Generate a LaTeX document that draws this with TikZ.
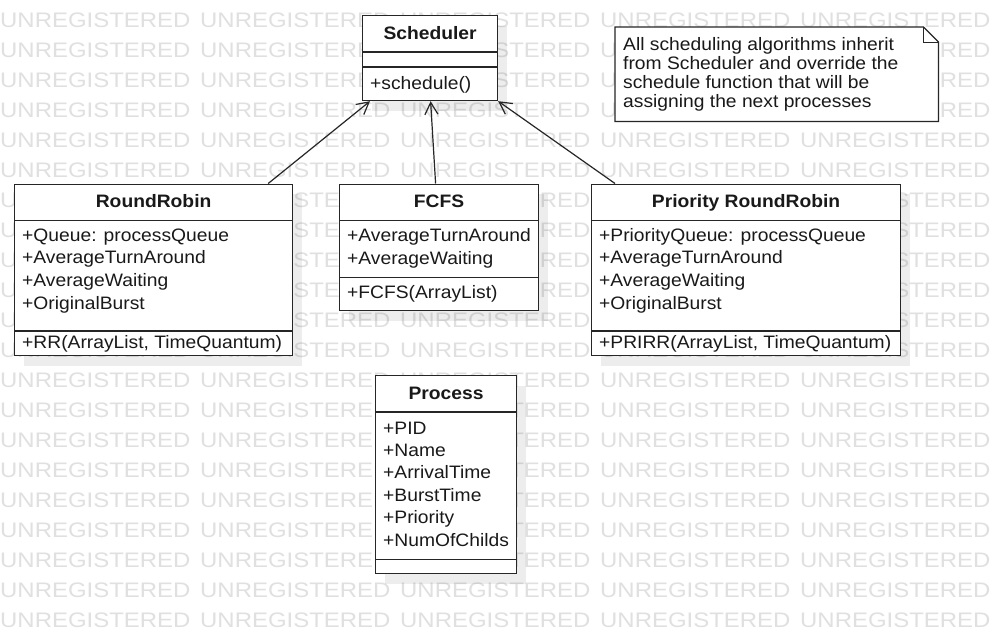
\documentclass[tikz,border=0pt]{standalone}
\usepackage{fontspec}
\usepackage{graphicx}
\setmainfont{Liberation Sans}[FakeStretch=1.07]
\newfontfamily\wmfont{Liberation Sans}
\usetikzlibrary{arrows.meta,shadows}

\begin{document}
\begin{tikzpicture}[x=1pt,y=-1pt,
    umlbox/.style={draw=black!85, line width=1.2pt, fill=white, anchor=north west, inner sep=0pt,
        drop shadow={shadow xshift=9pt, shadow yshift=-10pt, fill=black, opacity=0.07}},
    divider/.style={draw=black!85, line width=1.2pt},
    umltitle/.style={anchor=base, inner sep=0pt, text=black!90, font=\fontsize{18}{22}\selectfont\bfseries},
    umltext/.style={anchor=base west, inner sep=0pt, text=black!90, font=\fontsize{18}{22}\selectfont},
    inherit/.style={draw=black!85, line width=1.2pt, -{Straight Barb[length=12pt,width=13pt]}},
    wmark/.style={anchor=base west, inner sep=0pt, text=black!12, font=\wmfont\fontsize{21}{24}\selectfont}]

        \useasboundingbox (0,0) rectangle (999,633);
        \fill[white] (0,0) rectangle (999,633);

        % Watermark
        \foreach \r in {0,...,20}
            \foreach \c in {0,...,4}
                \node[wmark] (wm-\r-\c) at (200*\c, 27.7+30*\r) {\scalebox{1.14}[1]{UNREGISTERED}};

        % Scheduler
        \node[umlbox, minimum width=135pt, minimum height=85pt] (sched) at (362,15) {};
        \draw[divider] (sched.west |- 0,52) -- (sched.east |- 0,52);
        \draw[divider] (sched.west |- 0,67) -- (sched.east |- 0,67);
        \node[umltitle] (sched-title) at (sched.north |- 0,39.5) {Scheduler};
        \node[umltext] (sched-m) at (370,89) {+schedule()};

        % RoundRobin
        \node[umlbox, minimum width=278pt, minimum height=171.5pt] (rr) at (14,183.5) {};
        \draw[divider] (rr.west |- 0,220.5) -- (rr.east |- 0,220.5);
        \draw[divider] (rr.west |- 0,331) -- (rr.east |- 0,331);
        \node[umltitle] (rr-title) at (rr.north |- 0,207.5) {RoundRobin};
        \foreach \t [count=\i from 0] in {{+Queue: processQueue}, +AverageTurnAround, +AverageWaiting, +OriginalBurst}
            \node[umltext] (rr-a\i) at (22, 241+22.7*\i) {\t};
        \node[umltext] (rr-m) at (22,348.5) {+RR(ArrayList, TimeQuantum)};

        % FCFS
        \node[umlbox, minimum width=199pt, minimum height=126.5pt] (fcfs) at (339,183.5) {};
        \draw[divider] (fcfs.west |- 0,220.5) -- (fcfs.east |- 0,220.5);
        \draw[divider] (fcfs.west |- 0,277.5) -- (fcfs.east |- 0,277.5);
        \node[umltitle] (fcfs-title) at (fcfs.north |- 0,207.5) {FCFS};
        \foreach \t [count=\i from 0] in {+AverageTurnAround, +AverageWaiting}
            \node[umltext] (fcfs-a\i) at (347, 241.5+22.7*\i) {\t};
        \node[umltext] (fcfs-m) at (347,298.5) {+FCFS(ArrayList)};

        % Priority RoundRobin
        \node[umlbox, minimum width=309pt, minimum height=171.5pt] (prr) at (591,183.5) {};
        \draw[divider] (prr.west |- 0,220.5) -- (prr.east |- 0,220.5);
        \draw[divider] (prr.west |- 0,331) -- (prr.east |- 0,331);
        \node[umltitle] (prr-title) at (prr.north |- 0,207.5) {Priority RoundRobin};
        \foreach \t [count=\i from 0] in {{+PriorityQueue: processQueue}, +AverageTurnAround, +AverageWaiting, +OriginalBurst}
            \node[umltext] (prr-a\i) at (599, 241+22.7*\i) {\t};
        \node[umltext] (prr-m) at (599,348.5) {+PRIRR(ArrayList, TimeQuantum)};

        % Process
        \node[umlbox, minimum width=141pt, minimum height=198pt] (proc) at (375,375) {};
        \draw[divider] (proc.west |- 0,412) -- (proc.east |- 0,412);
        \draw[divider] (proc.west |- 0,559.5) -- (proc.east |- 0,559.5);
        \node[umltitle] (proc-title) at (proc.north |- 0,399) {Process};
        \foreach \t [count=\i from 0] in {+PID, +Name, +ArrivalTime, +BurstTime, +Priority, +NumOfChilds}
            \node[umltext] (proc-a\i) at (383, 434+22.4*\i) {\t};

        % Generalizations
        \draw[inherit] ([xshift=-25pt]rr.north east) -- ([xshift=8pt]sched.south west);
        \draw[inherit] ([xshift=-3.5pt]fcfs.north) -- ([xshift=0.5pt]sched.south);
        \draw[inherit] ([xshift=24pt]prr.north west) -- (sched.south east);

        % Note
        \node[minimum width=323pt, minimum height=94pt, anchor=north west, inner sep=0pt] (note) at (615,27) {};
        \draw[divider, fill=white] (note.south west) -- (note.north west) -- ([xshift=-15pt]note.north east)
            -- ([yshift=-15pt]note.north east) -- (note.south east) -- cycle;
        \draw[divider, line width=1pt] ([xshift=-15pt]note.north east) -- ([xshift=-15pt,yshift=-15pt]note.north east)
            -- ([yshift=-15pt]note.north east);
        \node[anchor=north west, inner sep=0pt, align=left, text=black!90, font=\fontsize{18}{19.1}\selectfont]
            (note-text) at (623,37) {All scheduling algorithms inherit\\from Scheduler and override the\\schedule function that will be\\assigning the next processes};
\end{tikzpicture}
\end{document}
